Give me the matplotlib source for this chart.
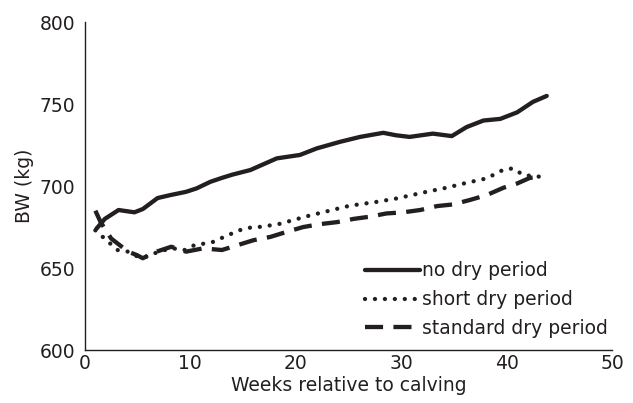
import numpy as np
import matplotlib
matplotlib.use("Agg")
import matplotlib.pyplot as plt

# body weight (kg) per week relative to calving
wk_no = [1.1, 1.9, 3.2, 4.7, 5.5, 6.9, 8.1, 9.6, 10.6, 11.9, 13.0, 14.0, 15.7, 17.0,
         18.2, 20.4, 22.0, 24.2, 26.1, 28.3, 29.5, 30.8, 33.0, 34.8, 36.2, 37.8,
         39.4, 41.0, 42.5, 43.8]
bw_no = [674, 680, 685.4, 684, 686, 692.7, 694.5, 696.5, 698.6, 702.6, 705, 707,
         709.8, 713.5, 716.9, 719, 723, 727, 730, 732.5, 731, 730, 732, 730.5,
         736, 740, 741, 745, 751.4, 755]

wk_short = [1.0, 1.7, 2.4, 3.1, 4.1, 5.0, 5.9, 6.6, 7.6, 8.7, 9.5, 10.4, 11.4, 12.2,
            13.1, 14.1, 14.9, 15.8, 16.8, 18.5, 21.3, 23.2, 25.1, 27.7, 29.6, 32.4,
            34.3, 36.2, 38.1, 39.7, 40.6, 41.6, 43.2]
bw_short = [673, 669, 665, 661, 660, 657, 657, 659, 661, 662, 661, 664, 665, 666,
            668.7, 671.5, 673.6, 674.8, 675.2, 677, 682, 685, 688, 690.4, 692.5,
            696.5, 699, 702, 704.7, 710, 710.8, 706.7, 705.7]

wk_std = [1.0, 1.5, 2.5, 4.1, 4.9, 5.5, 6.8, 8.2, 9.6, 11.2, 13.0, 14.5, 16.0, 17.6,
          19.1, 20.7, 22.3, 23.9, 25.5, 27.0, 28.6, 30.2, 31.8, 33.4, 34.9, 36.5,
          38.1, 39.7, 41.0, 42.2, 43.3]
bw_std = [685, 678, 668, 660, 658, 656, 660, 663, 660, 662, 661, 664, 667, 669,
          672, 675, 676.8, 678, 680, 681.3, 683.3, 684, 685.4, 687.8, 688.8, 691.5,
          694.5, 699, 701.6, 705, 705.7]

labels = ["no dry period", "short dry period", "standard dry period"]

ink = "#231f20"
fs = 13.5
plt.rcParams["font.family"] = "DejaVu Sans"
plt.rcParams["font.size"] = fs

fig = plt.figure(figsize=(6.33, 4.03), dpi=100)
ax = fig.add_axes([0.134, 0.1315, 0.833, 0.8135])

ax.plot(wk_no, bw_no, color=ink, lw=3.1, solid_capstyle="round",
        label=labels[0])
ax.plot(wk_short, bw_short, color=ink, lw=3.1, linestyle=(0, (0.01, 2.3)),
        dash_capstyle="round", label=labels[1])
ax.plot(wk_std, bw_std, color=ink, lw=3.1, linestyle=(0, (4.2, 2.4)),
        label=labels[2])

ax.set_xlim(0, 50)
ax.set_ylim(600, 800)
ax.set_xticks(range(0, 51, 10))
ax.set_yticks(range(600, 801, 50))
ax.tick_params(length=0, colors=ink, labelsize=fs)
ax.tick_params(axis="x", pad=3)
ax.tick_params(axis="y", pad=7)
for s in ["top", "right"]:
    ax.spines[s].set_visible(False)
for s in ["left", "bottom"]:
    ax.spines[s].set_color(ink)
    ax.spines[s].set_linewidth(1.0)

ax.set_xlabel("Weeks relative to calving", color=ink, fontsize=fs, labelpad=2)
ax.set_ylabel("BW (kg)", color=ink, fontsize=fs, labelpad=4)

leg = ax.legend(loc="lower right", bbox_to_anchor=(1.016, 0.0), frameon=False,
                handlelength=2.9, handletextpad=0.15, labelspacing=0.52,
                fontsize=fs, borderaxespad=0.25)
for t in leg.get_texts():
    t.set_color(ink)

fig.savefig("out.png", dpi=100)
